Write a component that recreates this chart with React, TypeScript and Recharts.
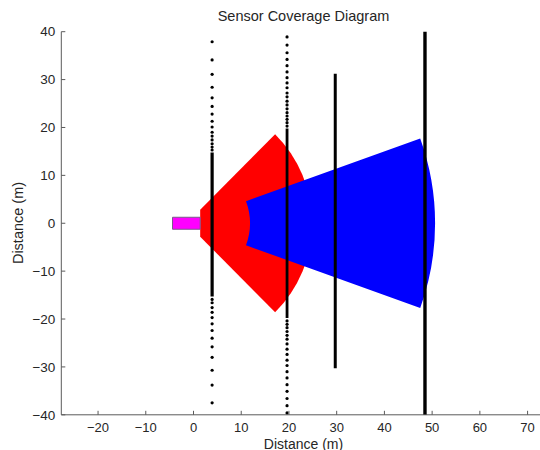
import React from 'react';
import { ComposedChart, Scatter, XAxis, YAxis } from 'recharts';

const W = 540;
const H = 450;

const xTicks = [-20, -10, 0, 10, 20, 30, 40, 50, 60, 70];
const yTicks = [-40, -30, -20, -10, 0, 10, 20, 30, 40];
const xDomain: [number, number] = [-27.7, 72.6];
const yDomain: [number, number] = [-40, 40];

// sensor origin (centre of the vehicle box)
const sensorCenter = { x: -1.5, y: 0 };

// vehicle box corners
const vehicleCorners = [
  { x: -4.4, y: 1.25 },
  { x: 1.4, y: 1.25 },
  { x: 1.4, y: -1.25 },
  { x: -4.4, y: -1.25 },
];

// short range (red) sector corners: innerTop, outerTop, outerBottom, innerBottom
const shortRangeCorners = [
  { x: 1.4, y: 2.8 },
  { x: 17.1, y: 18.6 },
  { x: 17.1, y: -18.6 },
  { x: 1.4, y: -2.8 },
];

// long range (blue) sector corners: innerTop, outerTop, outerBottom, innerBottom
const longRangeCorners = [
  { x: 11.0, y: 4.6 },
  { x: 47.5, y: 17.7 },
  { x: 47.5, y: -17.7 },
  { x: 11.0, y: -4.6 },
];

// scan line A (x ~ 3.9)
const lineAX = 3.9;
const lineADots = [
  37.9, 34.1, 31.1, 28.4, 26.2, 24.4, 22.8, 21.3, 20.1, 19.0, 18.2, 17.4, 16.6, 15.9, 15.3,
  -15.9, -16.6, -17.6, -18.6, -19.7, -21.0, -22.4, -24.0, -25.8, -28.0, -30.7, -33.8, -37.5,
];
const lineASolid = [14.8, -15.3];

// scan line B (x ~ 19.6)
const lineBX = 19.6;
const lineBDots = [
  38.9, 37.2, 35.6, 34.2, 32.9, 31.6, 30.4, 29.3, 28.3, 27.2, 26.4, 25.5, 24.7, 23.9, 23.1, 22.4, 21.7, 21.0, 20.3,
  -20.4, -21.1, -21.8, -22.6, -23.4, -24.2, -25.2, -26.3, -27.4, -28.6, -29.7, -31.0, -32.3, -33.7, -35.1, -36.6, -38.1, -39.6,
];
const lineBSolid = [19.8, -19.8];

// scan line C (x ~ 29.7)
const lineCX = 29.7;
const lineCSolid = [31.2, -30.3];

// scan line D (x ~ 48.5)
const lineDX = 48.5;
const lineDSolid = [40.2, -40];

const FONT = '"Liberation Sans", Arial, Helvetica, sans-serif';
const AXIS_COLOR = '#5a5a5a';
const TEXT_COLOR = '#262626';

const fmt = (v: number) => (v < 0 ? '\u2212' + Math.abs(v) : String(v));

const toPts = (xs: number, ys: number[]) => ys.map((y) => ({ x: xs, y }));

const sectorData = (corners: { x: number; y: number }[]) => [sensorCenter, ...corners];

const sectorLine = (fill: string, innerArc: boolean) => (props: any) => {
  const pts = props.points || [];
  if (pts.length < 5) return <g />;
  const [c, iT, oT, oB, iB] = pts;
  const rO = Math.hypot(oT.x - c.x, oT.y - c.y);
  const rI = Math.hypot(iT.x - c.x, iT.y - c.y);
  const d =
    `M${iT.x},${iT.y} L${oT.x},${oT.y} A${rO},${rO} 0 0 1 ${oB.x},${oB.y} L${iB.x},${iB.y} ` +
    (innerArc ? `A${rI},${rI} 0 0 0 ${iT.x},${iT.y}` : `L${iT.x},${iT.y}`) +
    ' Z';
  return <path d={d} fill={fill} stroke="none" />;
};

const polygonLine = (fill: string, stroke: string) => (props: any) => {
  const pts = props.points || [];
  if (!pts.length) return <g />;
  const d = pts.map((p: any, i: number) => `${i === 0 ? 'M' : 'L'}${p.x},${p.y}`).join(' ') + ' Z';
  return <path d={d} fill={fill} stroke={stroke} strokeWidth={1} />;
};

const noShape = () => <g />;
const dotShape = (p: any) => <circle cx={p.cx} cy={p.cy} r={1.6} fill="#000" />;

const XTick = (props: any) => {
  const { x, y, payload } = props;
  return (
    <g>
      <line x1={x} x2={x} y1={y} y2={y - 4} stroke={AXIS_COLOR} strokeWidth={1} />
      <text x={x} y={y + 17.5} textAnchor="middle" fontSize={13} fill={TEXT_COLOR} fontFamily={FONT}>
        {fmt(payload.value)}
      </text>
    </g>
  );
};

const YTick = (props: any) => {
  const { x, y, payload } = props;
  return (
    <g>
      <line x1={x} x2={x + 4} y1={y} y2={y} stroke={AXIS_COLOR} strokeWidth={1} />
      <text x={x - 6} y={y + 4.7} textAnchor="end" fontSize={13.5} fill={TEXT_COLOR} fontFamily={FONT}>
        {fmt(payload.value)}
      </text>
    </g>
  );
};

export default function App() {
  return (
    <div style={{ position: 'absolute', left: 0, top: 0, width: W, height: H, background: '#fff' }}>
      <ComposedChart
        width={W}
        height={H}
        margin={{ top: 31.7, right: 0, bottom: 0, left: 0 }}
      >
        <XAxis
          dataKey="x"
          type="number"
          domain={xDomain}
          allowDataOverflow
          ticks={xTicks}
          interval={0}
          height={35.2}
          tickSize={0}
          tickMargin={0}
          tick={<XTick />}
          axisLine={{ stroke: AXIS_COLOR, strokeWidth: 1 }}
          tickLine={false}
        />
        <YAxis
          dataKey="y"
          type="number"
          domain={yDomain}
          allowDataOverflow
          ticks={yTicks}
          interval={0}
          width={61.3}
          tickSize={0}
          tickMargin={0}
          tick={<YTick />}
          axisLine={{ stroke: AXIS_COLOR, strokeWidth: 1 }}
          tickLine={false}
        />
        <Scatter
          data={sectorData(shortRangeCorners)}
          shape={noShape}
          line={sectorLine('#ff0000', false)}
          lineType="joint"
          isAnimationActive={false}
        />
        <Scatter
          data={sectorData(longRangeCorners)}
          shape={noShape}
          line={sectorLine('#0000ff', true)}
          lineType="joint"
          isAnimationActive={false}
        />
        <Scatter
          data={vehicleCorners}
          shape={noShape}
          line={polygonLine('#ff00ff', '#7a5a8a')}
          lineType="joint"
          isAnimationActive={false}
        />
        <Scatter data={toPts(lineAX, lineADots)} shape={dotShape} isAnimationActive={false} />
        <Scatter
          data={toPts(lineAX, lineASolid)}
          shape={noShape}
          line={{ stroke: '#000', strokeWidth: 3.2 }}
          lineType="joint"
          isAnimationActive={false}
        />
        <Scatter data={toPts(lineBX, lineBDots)} shape={dotShape} isAnimationActive={false} />
        <Scatter
          data={toPts(lineBX, lineBSolid)}
          shape={noShape}
          line={{ stroke: '#000', strokeWidth: 2.8 }}
          lineType="joint"
          isAnimationActive={false}
        />
        <Scatter
          data={toPts(lineCX, lineCSolid)}
          shape={noShape}
          line={{ stroke: '#000', strokeWidth: 3 }}
          lineType="joint"
          isAnimationActive={false}
        />
        <Scatter
          data={toPts(lineDX, lineDSolid)}
          shape={noShape}
          line={{ stroke: '#000', strokeWidth: 3.4 }}
          lineType="joint"
          isAnimationActive={false}
        />
      </ComposedChart>
      <svg
        width={W}
        height={H}
        style={{ position: 'absolute', left: 0, top: 0, pointerEvents: 'none' }}
      >
        <text x={303.5} y={20.5} textAnchor="middle" fontSize={14.5} fill={TEXT_COLOR} fontFamily={FONT}>
          Sensor Coverage Diagram
        </text>
        <text x={303.5} y={448.5} textAnchor="middle" fontSize={14} fill={TEXT_COLOR} fontFamily={FONT}>
          Distance (m)
        </text>
        <text
          x={0}
          y={0}
          transform="translate(23,223) rotate(-90)"
          textAnchor="middle"
          fontSize={14.5}
          fill={TEXT_COLOR}
          fontFamily={FONT}
        >
          Distance (m)
        </text>
      </svg>
    </div>
  );
}
